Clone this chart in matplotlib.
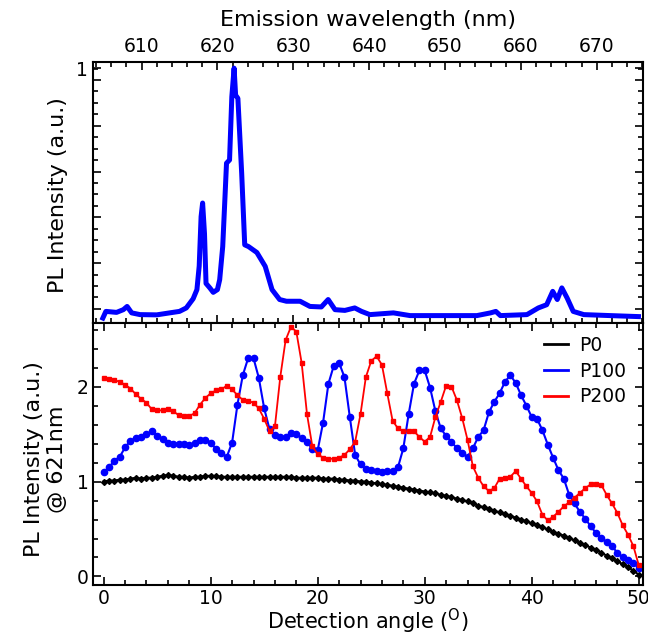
import numpy as np
import matplotlib
matplotlib.use('Agg')
from matplotlib import pyplot as plt
from matplotlib.ticker import MultipleLocator

# emission spectrum (top panel)
wavelength = [604.9, 605.3, 606.7, 607.6, 608.1, 608.7, 609.8, 612.0, 613.7, 615.0,
              615.9, 616.8, 617.3, 617.6, 617.85, 618.05, 618.3, 618.5, 619.0, 619.45,
              620.0, 620.3, 620.7, 621.0, 621.2, 621.6, 621.9, 622.2, 622.4, 622.7,
              623.2, 623.6, 624.1, 625.2, 626.3, 627.2, 628.2, 629.1, 630.9, 632.2,
              633.7, 634.6, 635.5, 636.8, 638.1, 639.0, 640.1, 643.2, 645.4, 649.8,
              654.2, 656.0, 656.7, 657.3, 660.8, 662.3, 663.4, 664.2, 664.8, 665.4,
              666.1, 666.9, 668.3, 671.8, 675.5]
spectrum = [-0.01, 0.017, 0.013, 0.024, 0.037, 0.011, 0.004, 0.003, 0.011, 0.017,
            0.031, 0.068, 0.105, 0.20, 0.40, 0.455, 0.33, 0.13, 0.112, 0.094,
            0.105, 0.145, 0.279, 0.48, 0.616, 0.629, 0.884, 1.0, 0.891, 0.878,
            0.575, 0.286, 0.279, 0.255, 0.199, 0.105, 0.065, 0.058, 0.058, 0.037,
            0.035, 0.065, 0.024, 0.021, 0.031, 0.017, 0.004, 0.011, 0.0, 0.0,
            0.0, 0.011, 0.017, 0.0, 0.004, 0.031, 0.044, 0.098, 0.065, 0.112,
            0.071, 0.017, 0.004, 0.0, -0.004]

# angular dependence at 621 nm (bottom panel), 0.5 deg steps
angle = np.arange(0, 50.5, 0.5)
p0 = [1.00, 1.01, 1.01, 1.02, 1.02, 1.03, 1.04, 1.03, 1.04, 1.04,
      1.05, 1.06, 1.07, 1.06, 1.05, 1.05, 1.04, 1.05, 1.05, 1.06,
      1.06, 1.06, 1.05, 1.05, 1.05, 1.05, 1.05, 1.05, 1.05, 1.05,
      1.05, 1.05, 1.05, 1.05, 1.05, 1.05, 1.04, 1.04, 1.04, 1.04,
      1.04, 1.03, 1.03, 1.03, 1.02, 1.02, 1.01, 1.01, 1.00, 1.00,
      0.99, 0.98, 0.97, 0.965, 0.955, 0.945, 0.935, 0.925, 0.915, 0.905,
      0.895, 0.885, 0.875, 0.86, 0.85, 0.835, 0.82, 0.805, 0.79, 0.77,
      0.745, 0.73, 0.71, 0.69, 0.675, 0.655, 0.64, 0.62, 0.60, 0.58,
      0.56, 0.54, 0.52, 0.495, 0.47, 0.45, 0.43, 0.405, 0.38, 0.355,
      0.33, 0.305, 0.28, 0.25, 0.22, 0.19, 0.16, 0.13, 0.10, 0.06,
      0.02]
p100 = [1.10, 1.15, 1.22, 1.26, 1.36, 1.43, 1.46, 1.47, 1.50, 1.53,
        1.48, 1.45, 1.41, 1.40, 1.40, 1.40, 1.38, 1.41, 1.44, 1.44,
        1.41, 1.34, 1.30, 1.26, 1.41, 1.81, 2.12, 2.30, 2.30, 2.09,
        1.77, 1.55, 1.49, 1.47, 1.47, 1.51, 1.50, 1.46, 1.42, 1.34,
        1.33, 1.62, 2.03, 2.22, 2.25, 2.10, 1.68, 1.28, 1.18, 1.13,
        1.12, 1.11, 1.105, 1.11, 1.11, 1.15, 1.35, 1.71, 2.03, 2.17,
        2.17, 1.99, 1.74, 1.56, 1.48, 1.42, 1.35, 1.30, 1.26, 1.35,
        1.47, 1.54, 1.73, 1.84, 1.93, 2.05, 2.12, 2.04, 1.91, 1.80,
        1.68, 1.66, 1.54, 1.39, 1.25, 1.12, 1.03, 0.86, 0.77, 0.68,
        0.61, 0.53, 0.46, 0.41, 0.36, 0.32, 0.25, 0.20, 0.17, 0.14,
        0.09]
p200 = [2.09, 2.08, 2.07, 2.05, 2.02, 1.98, 1.92, 1.87, 1.83, 1.76,
        1.75, 1.75, 1.76, 1.74, 1.70, 1.69, 1.69, 1.72, 1.81, 1.88,
        1.93, 1.96, 1.97, 2.01, 1.97, 1.91, 1.86, 1.85, 1.83, 1.77,
        1.66, 1.53, 1.58, 2.10, 2.49, 2.63, 2.58, 2.25, 1.71, 1.37,
        1.29, 1.25, 1.24, 1.24, 1.25, 1.28, 1.34, 1.42, 1.71, 2.10,
        2.27, 2.32, 2.23, 1.93, 1.64, 1.56, 1.53, 1.53, 1.53, 1.47,
        1.42, 1.47, 1.68, 1.84, 2.01, 2.00, 1.86, 1.67, 1.44, 1.16,
        1.04, 0.95, 0.90, 0.93, 1.03, 1.04, 1.05, 1.11, 1.03, 0.95,
        0.88, 0.79, 0.65, 0.59, 0.63, 0.68, 0.74, 0.78, 0.83, 0.88,
        0.93, 0.97, 0.97, 0.965, 0.86, 0.77, 0.67, 0.54, 0.44, 0.32,
        0.12]

plt.rcParams['font.family'] = 'DejaVu Sans'
plt.rcParams['axes.linewidth'] = 1.5

fig = plt.figure(figsize=(6.48, 6.35), dpi=100)
ax1 = fig.add_axes([0.1435, 0.4913, 0.8488, 0.4111])
ax2 = fig.add_axes([0.1435, 0.0787, 0.8488, 0.4126])

# top: spectrum
ax1.plot(wavelength, spectrum, color='#0000ff', lw=3.6, solid_joinstyle='round')
ax1.set_xlim(603.6, 676.1)
ax1.set_ylim(-0.03, 1.025)
ax1.xaxis.set_ticks_position('top')
ax1.xaxis.set_label_position('top')
ax1.set_xticks(np.arange(610, 671, 10))
ax1.xaxis.set_minor_locator(MultipleLocator(2))
ax1.set_xlabel('Emission wavelength (nm)', fontsize=16, labelpad=8)
ytk = [0.027, 0.212, 0.397, 0.582, 0.767, 0.952, 1.0]
ax1.set_yticks(ytk, ['', '', '', '', '', '', '1'])
ax1.set_yticks(np.arange(0.027, 1.0, 0.04625), minor=True)
ax1.yaxis.get_major_ticks()[-1].tick1line.set_visible(False)
ax1.yaxis.get_major_ticks()[-1].tick2line.set_visible(False)
ax1.set_ylabel('PL Intensity (a.u.)', fontsize=16)
ax1.yaxis.set_label_coords(-0.045, 0.49)
ax1.tick_params(which='both', direction='in', top=True, bottom=True, left=True, right=True,
                labelbottom=False, labeltop=True, labelsize=13.5, width=1.2)
ax1.tick_params(which='major', length=6, pad=4)
ax1.tick_params(which='minor', length=3.5)

# bottom: angular dependence
ax2.plot(angle, p0, color='black', lw=1.5, marker='D', ms=3, label='P0')
ax2.plot(angle, p100, color='#0000ff', lw=1.5, marker='o', ms=4.5, label='P100')
ax2.plot(angle, p200, color='#ff0000', lw=1.3, marker='s', ms=2.6, label='P200')
ax2.set_xlim(-1.0, 50.4)
ax2.set_ylim(-0.09, 2.67)
ax2.set_xticks(np.arange(0, 51, 10))
ax2.xaxis.set_minor_locator(MultipleLocator(2))
ax2.set_yticks([0, 1, 2])
ax2.yaxis.set_minor_locator(MultipleLocator(0.2))
ax2.tick_params(which='both', direction='in', top=True, bottom=True, left=True, right=True,
                labelsize=13.5, width=1.2)
ax2.tick_params(which='major', length=6, pad=3)
ax2.tick_params(which='minor', length=3.5)
ax2.set_xlabel('Detection angle ($^{\\rm O}$)', fontsize=15, labelpad=-1)
ax2.set_ylabel('PL Intensity (a.u.)\n@ 621nm', fontsize=16, linespacing=1.15)
ax2.yaxis.set_label_coords(-0.048, 0.48)

leg = ax2.legend(loc='upper right', bbox_to_anchor=(1.0, 1.015), frameon=False, fontsize=13.5,
                 handlelength=1.3, handletextpad=0.6, labelspacing=0.35)
for h in leg.legend_handles:
    h.set_marker('')
    h.set_linewidth(2)

fig.savefig('out.png', dpi=100)
